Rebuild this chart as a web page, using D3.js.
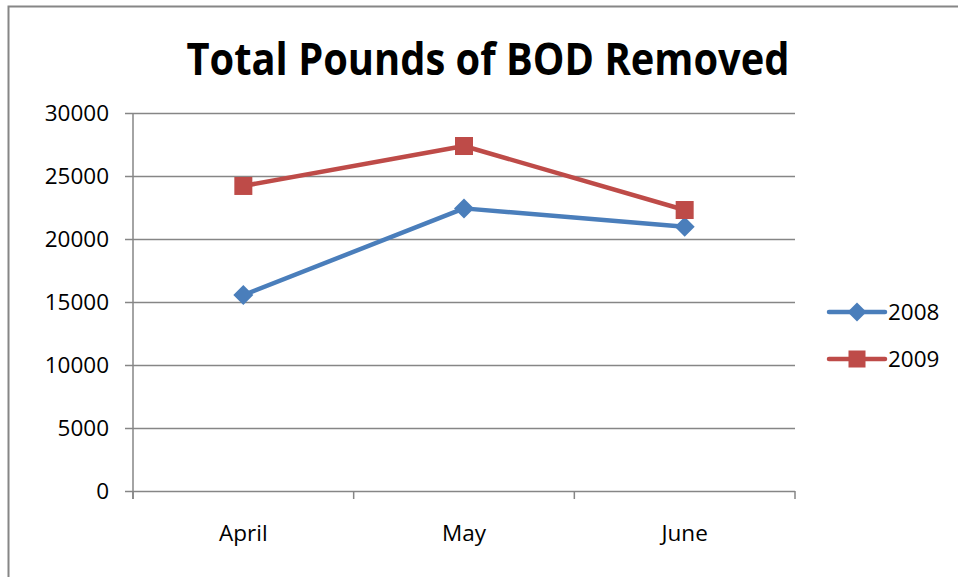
<!DOCTYPE html>
<html>
<head>
<meta charset="utf-8">
<script src="https://cdn.jsdelivr.net/npm/d3@7"></script>
<style>
  body { margin: 0; background: #fff; }
  svg { display: block; }
  .tick text { font-family: "Open Sans", sans-serif; fill: #000; }
</style>
</head>
<body>
<div class="chart"></div>
<script>
// Data.
const months = ["April", "May", "June"];
const yTicks = [0, 5000, 10000, 15000, 20000, 25000, 30000];
const bod2008 = [15550, 22430, 20980];
const bod2009 = [24210, 27380, 22300];

const series = [
  { name: "2008", color: "#4a7ebb", marker: "diamond", values: bod2008 },
  { name: "2009", color: "#be4b48", marker: "square", values: bod2009 },
];

const W = 958, H = 577;
const margin = { top: 113, right: 163, bottom: 86, left: 133 };
const width = W - margin.left - margin.right;
const height = H - margin.top - margin.bottom;
const labelSize = 22.5;

const svg = d3.select(".chart").append("svg")
  .attr("width", W)
  .attr("height", H);

// Chart area border (left + top visible).
svg.append("path")
  .attr("d", `M8.5,${H} V6.5 H${W}`)
  .attr("fill", "none")
  .attr("stroke", "#868686")
  .attr("stroke-width", 2);

// Title.
svg.append("text")
  .attr("x", 488)
  .attr("y", 75)
  .attr("text-anchor", "middle")
  .attr("font-family", "'Open Sans', sans-serif")
  .attr("font-weight", "bold")
  .attr("font-size", 44)
  .attr("textLength", 603)
  .attr("lengthAdjust", "spacingAndGlyphs")
  .text("Total Pounds of BOD Removed");

const g = svg.append("g")
  .attr("transform", `translate(${margin.left}, ${margin.top})`);

// Scales.
const xScale = d3.scaleBand().domain(months).range([0, width]);
const yScale = d3.scaleLinear().domain([0, 30000]).range([height, 0]);

// Y axis with gridlines.
const yAxis = d3.axisLeft(yScale)
  .tickValues(yTicks)
  .tickSizeInner(-width - 8)
  .tickSizeOuter(0)
  .tickPadding(16)
  .tickFormat(d3.format("d"));

const yAxisDraw = g.append("g")
  .attr("class", "y axis")
  .attr("transform", "translate(-8, 0)")
  .call(yAxis);
yAxisDraw.select(".domain").remove();
yAxisDraw.selectAll(".tick line")
  .attr("stroke", "#868686")
  .attr("stroke-width", 1.5);
yAxisDraw.selectAll(".tick text")
  .attr("font-size", labelSize)
  .attr("x", -16)
  .attr("dy", "0.35em");

// Vertical axis line.
g.append("line")
  .attr("x1", 0).attr("x2", 0)
  .attr("y1", 0).attr("y2", height + 8)
  .attr("stroke", "#868686")
  .attr("stroke-width", 1.5);

// X axis: ticks at band boundaries.
const bounds = months.map((m) => xScale(m)).concat([width]);
g.append("g")
  .selectAll("line")
  .data(bounds)
  .join("line")
  .attr("x1", (d) => d).attr("x2", (d) => d)
  .attr("y1", height).attr("y2", height + 8)
  .attr("stroke", "#868686")
  .attr("stroke-width", 1.5);

g.append("g")
  .selectAll("text")
  .data(months)
  .join("text")
  .attr("x", (d) => xScale(d) + xScale.bandwidth() / 2)
  .attr("y", height + 50)
  .attr("text-anchor", "middle")
  .attr("font-family", "'Open Sans', sans-serif")
  .attr("font-size", labelSize)
  .text((d) => d);

// Line generator.
const lineGen = d3.line()
  .x((d, i) => xScale(months[i]) + xScale.bandwidth() / 2)
  .y((d) => yScale(d));

function drawMarker(sel, type, color, r) {
  if (type === "square") {
    sel.append("rect")
      .attr("x", -r + 1).attr("y", -r + 1)
      .attr("width", 2 * r - 2).attr("height", 2 * r - 2)
      .attr("fill", color);
  } else {
    sel.append("path")
      .attr("d", `M0,${-r} L${r},0 L0,${r} L${-r},0 Z`)
      .attr("fill", color);
  }
}

series.forEach((s) => {
  g.append("path")
    .attr("d", lineGen(s.values))
    .attr("fill", "none")
    .attr("stroke", s.color)
    .attr("stroke-width", 4.5)
    .attr("stroke-linejoin", "round");

  g.append("g")
    .selectAll("g")
    .data(s.values)
    .join("g")
    .attr("transform", (d, i) =>
      `translate(${xScale(months[i]) + xScale.bandwidth() / 2}, ${yScale(d)})`)
    .each(function () { drawMarker(d3.select(this), s.marker, s.color, 10); });
});

// Legend.
const legend = svg.append("g").attr("class", "legend");
series.forEach((s, i) => {
  const item = legend.append("g")
    .attr("transform", `translate(829, ${312 + i * 47})`);
  item.append("line")
    .attr("x1", 0).attr("x2", 56)
    .attr("stroke", s.color)
    .attr("stroke-width", 4.5)
    .attr("stroke-linecap", "round");
  const m = item.append("g").attr("transform", "translate(28, 0)");
  drawMarker(m, s.marker, s.color, 9.5);
  item.append("text")
    .attr("x", 59)
    .attr("dy", "0.35em")
    .attr("font-family", "'Open Sans', sans-serif")
    .attr("font-size", labelSize)
    .text(s.name);
});
</script>
</body>
</html>
